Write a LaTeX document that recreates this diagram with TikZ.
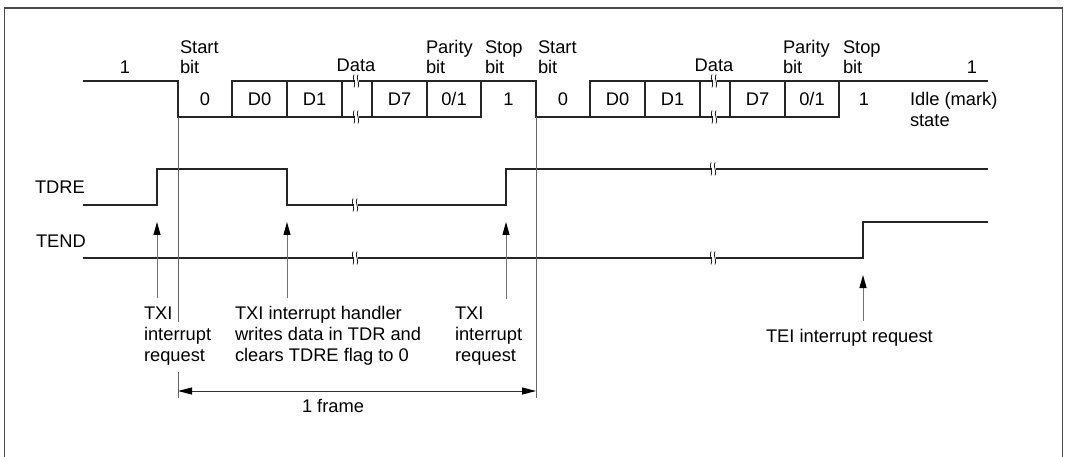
\documentclass[tikz,border=0pt]{standalone}
\usepackage{fontspec}
\setmainfont{Liberation Sans}
\usetikzlibrary{arrows.meta}
\begin{document}
\begin{tikzpicture}[x=1pt,y=-1pt,
  every node/.style={inner sep=0pt, outer sep=0pt, font=\fontsize{18.3}{20.8}\selectfont},
  lbl/.style={anchor=base west, align=left},
  ctr/.style={anchor=base},
  wave/.style={line width=1.3pt, draw=black!85, line join=miter},
  marker/.style={line width=1pt, draw=black!60},
  reqarrow/.style={line width=1pt, draw=black!55, -{Triangle[length=13pt,width=7pt,color=black]}},
  span/.style={line width=1pt, draw=black!80, {Triangle[length=14pt,width=7pt,color=black]}-{Triangle[length=14pt,width=7pt,color=black]}},
  brk/.pic={\fill[white] (-2,-6) rectangle (1.5,6);
            \draw[line width=0.7pt] (-3,-6.5) .. controls (-5.5,-2) and (-0.5,2) .. (-3,6.5);
            \draw[line width=0.7pt] (1,-6.5) .. controls (-1.5,-2) and (3.5,2) .. (1,6.5);}
]
\useasboundingbox (0,0) rectangle (1066,457);
% outer frame
\draw[line width=1.5pt, black!70] (4.5,460) -- (4.5,7.8) -- (1062.5,7.8) -- (1062.5,460);

% ---------- serial data line ----------
\draw[wave] (83,81) -- (178,81) -- (178,117) -- (481,117) -- (481,81);
\draw[wave] (232,117) -- (232,81) -- (536,81) -- (536,117) -- (839,117) -- (839,81);
\draw[wave] (590,117) -- (590,81) -- (988,81);
\foreach \o in {0,358}{
  \foreach \x in {287,342,372,427}{
    \draw[wave] (\x+\o,81) -- (\x+\o,117);
  }
  \pic at (357+\o,81) {brk};
  \pic at (357+\o,117) {brk};
}

% ---------- TDRE ----------
\draw[wave] (83,205) -- (157,205) -- (157,169) -- (287,169) -- (287,205) -- (506,205) -- (506,169) -- (988,169);
\pic at (356,205) {brk};
\pic at (714,169) {brk};

% ---------- TEND ----------
\draw[wave] (83,258) -- (863,258) -- (863,222) -- (988,222);
\pic at (356,258) {brk};
\pic at (714,258) {brk};

% ---------- frame markers ----------
\coordinate (fa1) at (178,117);
\coordinate (fa2) at (178,322);
\coordinate (fa3) at (178,372);
\coordinate (fa4) at (178,398);
\coordinate (fb1) at (536,117);
\coordinate (fb2) at (536,398);
\draw[marker] (fa1) -- (fa2);
\draw[marker] (fa3) -- (fa4);
\draw[marker] (fb1) -- (fb2);
\coordinate (sa) at (178,391);
\coordinate (sb) at (536,391);
\draw[span] (sa) -- (sb);
\node[lbl] (frm) at (302,412) {1 frame};

% ---------- request arrows ----------
\coordinate (r1a) at (157,298); \coordinate (r1b) at (157,222);
\coordinate (r2a) at (287,298); \coordinate (r2b) at (287,222);
\coordinate (r3a) at (506,299); \coordinate (r3b) at (506,222);
\coordinate (r4a) at (863,321); \coordinate (r4b) at (863,275);
\draw[reqarrow] (r1a) -- (r1b);
\draw[reqarrow] (r2a) -- (r2b);
\draw[reqarrow] (r3a) -- (r3b);
\draw[reqarrow] (r4a) -- (r4b);

% ---------- labels: top (base = last line) ----------
\node[ctr] (one1) at (125,73.5) {1};
\node[lbl] (st1) at (180,74) {Start\\bit};
\node[ctr] (da1) at (356,71.5) {Data};
\node[lbl] (pa1) at (426,74) {Parity\\bit};
\node[lbl] (sp1) at (485,74) {Stop\\bit};
\node[lbl] (st2) at (538,74) {Start\\bit};
\node[ctr] (da2) at (714,71.5) {Data};
\node[lbl] (pa2) at (783,74) {Parity\\bit};
\node[lbl] (sp2) at (843,74) {Stop\\bit};
\node[ctr] (one2) at (972,73.5) {1};

% bit values
\node[ctr] (b10) at (205,105.5) {0};
\node[ctr] (b1a) at (259.5,105.5) {D0};
\node[ctr] (b1b) at (314.5,105.5) {D1};
\node[ctr] (b1c) at (399.5,105.5) {D7};
\node[ctr] (b1d) at (454,105.5) {0/1};
\node[ctr] (b1e) at (508.5,105.5) {1};
\node[ctr] (b20) at (563,105.5) {0};
\node[ctr] (b2a) at (617.5,105.5) {D0};
\node[ctr] (b2b) at (672.5,105.5) {D1};
\node[ctr] (b2c) at (757.5,105.5) {D7};
\node[ctr] (b2d) at (812,105.5) {0/1};
\node[ctr] (b2e) at (864,105.5) {1};
\node[lbl] (idle) at (910,126.5) {Idle (mark)\\state};

% signal names
\node[lbl] (tdre) at (35,194) {TDRE};
\node[lbl] (tend) at (36,248) {TEND};

% request texts
\node[lbl] (txi1) at (144,361) {TXI\\interrupt\\request};
\node[lbl] (hdl) at (235,361) {TXI interrupt handler\\writes data in TDR and\\clears TDRE flag to 0};
\node[lbl] (txi2) at (455,361) {TXI\\interrupt\\request};
\node[lbl] (tei) at (766,342.5) {TEI interrupt request};
\end{tikzpicture}
\end{document}
